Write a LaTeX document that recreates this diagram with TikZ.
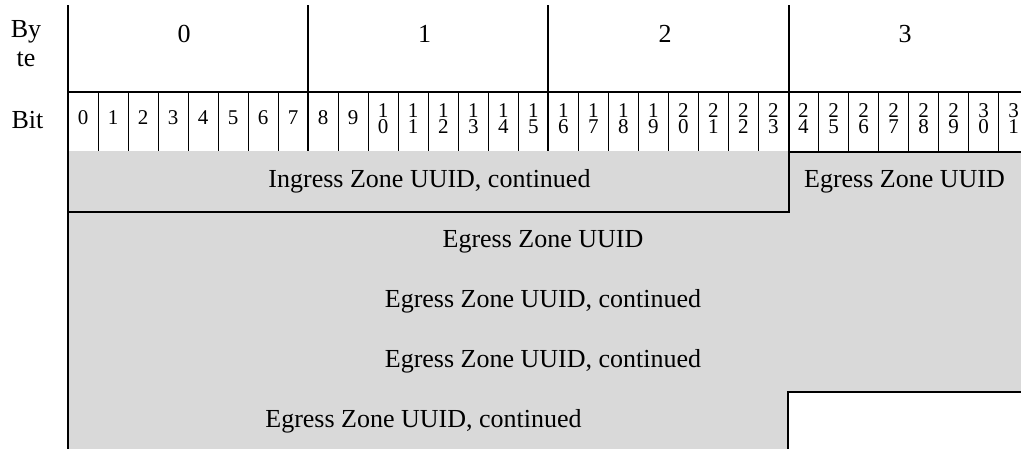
\documentclass[tikz,border=0pt]{standalone}
\usepackage{fontspec}
\setmainfont{Liberation Serif}
\definecolor{fieldgray}{RGB}{217,217,217}
\begin{document}
\begin{tikzpicture}[x=1pt,y=-1pt,
  thickline/.style={line width=2pt},
  thinline/.style={line width=1pt},
  big/.style={font=\fontsize{26}{27}\selectfont, inner sep=0pt, anchor=base},
  bitlbl/.style={font=\fontsize{21}{15.5}\selectfont, inner sep=0pt, align=center},
]
\useasboundingbox (0,0) rectangle (1021,448);
\clip (0,0) rectangle (1021,448);
% field fills
\fill[fieldgray] (68,151) rectangle (789,212);
\fill[fieldgray] (789,152) rectangle (1040,212);
\fill[fieldgray] (68,212) rectangle (1040,392);
\fill[fieldgray] (68,392) rectangle (788,452);
% thin bit dividers
\foreach \k in {1,...,31} {\draw[thinline] ({68+30.02*\k},92) -- ({68+30.02*\k},151);}
% thick lines
\draw[thickline] (68,5) -- (68,452);
\draw[thickline] (67,92) -- (1040,92);
\draw[thickline] (308.2,5) -- (308.2,151);
\draw[thickline] (548.4,5) -- (548.4,151);
\draw[thickline] (788.6,5) -- (788.6,213);
\draw[thickline] (67,212) -- (789.6,212);
\draw[thickline] (788.6,152) -- (1040,152);
\draw[thickline] (788,452) -- (788,392) -- (1040,392);
% left labels
\node[font=\fontsize{26}{29}\selectfont, inner sep=0pt, align=center] (bytelbl) at (26,43.5) {By\\te};
\node[big] (bitrowlbl) at (27.5,128) {Bit};
% byte numbers
\node[big] (b0) at (184,42) {0};
\node[big] (b1) at (424.5,42) {1};
\node[big] (b2) at (665,42) {2};
\node[big] (b3) at (905,42) {3};
% bit numbers
\foreach \k in {0,...,9} {\node[bitlbl] (bit\k) at ({68+30.02*(\k+0.5)},118) {\k};}
\foreach \k/\a/\b in {10/1/0,11/1/1,12/1/2,13/1/3,14/1/4,15/1/5,16/1/6,17/1/7,18/1/8,19/1/9,20/2/0,21/2/1,22/2/2,23/2/3,24/2/4,25/2/5,26/2/6,27/2/7,28/2/8,29/2/9,30/3/0,31/3/1} {\node[bitlbl] (bit\k) at ({68+30.02*(\k+0.5)},118.5) {\a\\\b};}
% field labels
\node[big] (ingress) at (429.5,187) {Ingress Zone UUID, continued};
\node[big] (egress0) at (904.5,187) {Egress Zone UUID};
\node[big] (egress1) at (543,247) {Egress Zone UUID};
\node[big] (egress2) at (543,307.5) {Egress Zone UUID, continued};
\node[big] (egress3) at (543,367.5) {Egress Zone UUID, continued};
\node[big] (egress4) at (423.5,427.5) {Egress Zone UUID, continued};
\end{tikzpicture}
\end{document}
